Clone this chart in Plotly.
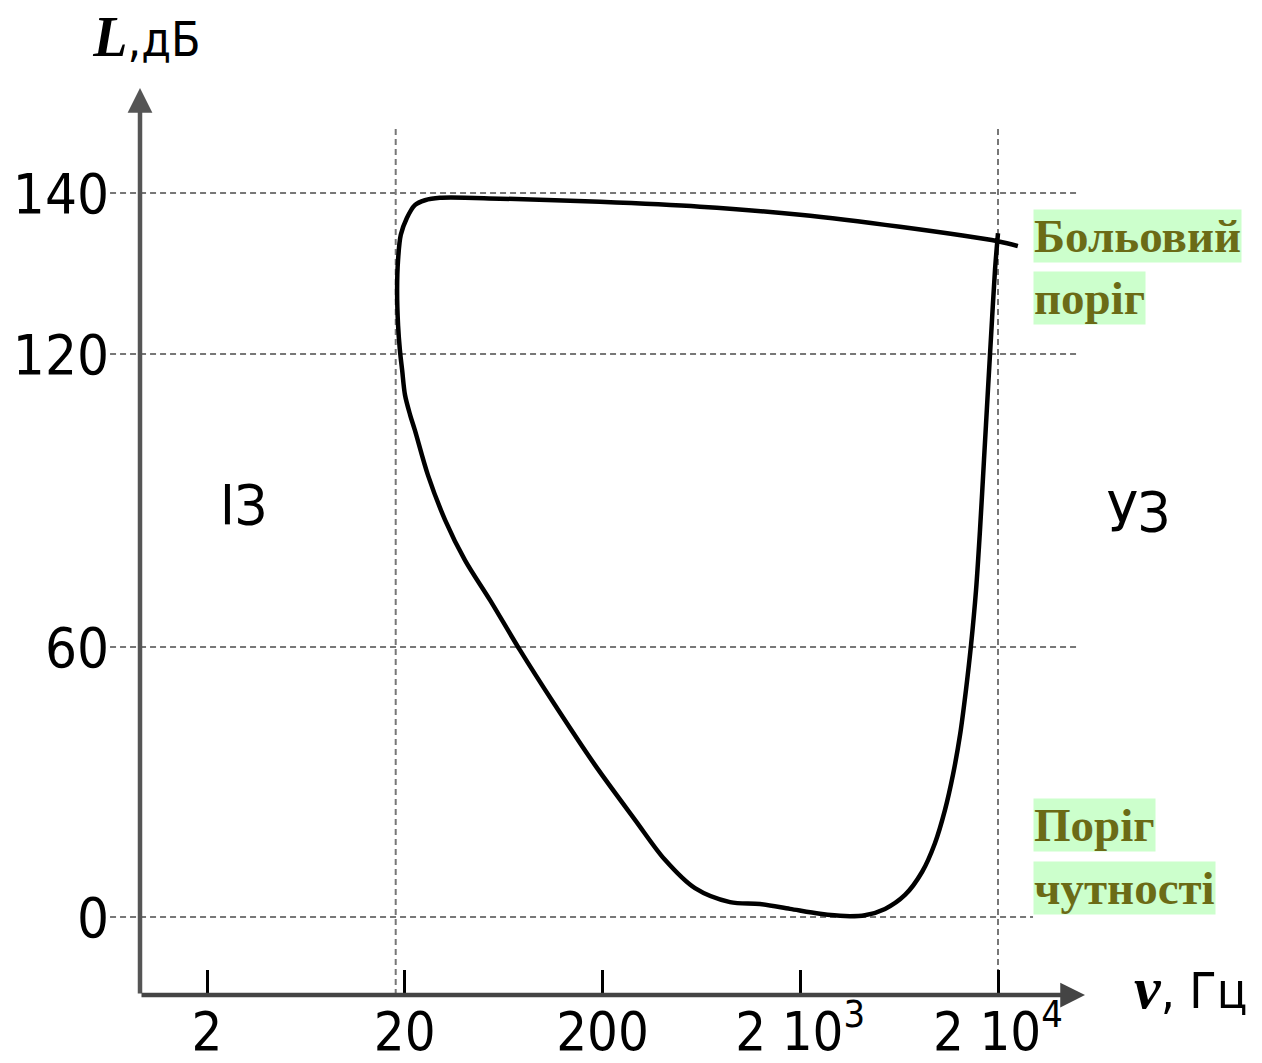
import numpy as np
import plotly.graph_objects as go

# ---------------- data ----------------
# Hearing area: pain threshold (top) + hearing threshold (closed curve)
FREQ_HZ = [25200, 20000, 6385, 1995, 622, 194, 60.6, 30.1, 25.3, 22.5, 20.5,
           19.1, 18.5, 18.3, 18.5, 18.9,
           19.4, 20.06, 21.3, 22.5, 26.2, 32.0, 40.3, 54.0, 76.5, 115, 183, 292, 414,
           587, 883, 1251, 1775, 2518, 3368, 4249, 5366, 6771, 8257, 9598,
           10790, 11840, 12850, 13770, 14610, 15490, 16220, 16990, 17790,
           18650, 19310, 20000]
LEVEL_DB = [133.4, 134.0, 135.8, 137.3, 138.3, 138.9, 139.3, 139.4, 139.1, 138.5, 136.9,
            134.8, 131.7, 128.0, 123.6, 120.5,
            116.7, 111.6, 107.5, 104.4, 95.2, 86.0, 77.8, 69.6, 59.3, 47.1, 33.8, 21.6, 12.7,
            6.4, 3.3, 2.9, 1.8, 0.7, 0.2, 0.4, 1.8, 4.9, 10.0, 16.4,
            23.8, 31.6, 40.4, 50.4, 60.4, 71.7, 84.0, 98.3, 112.6,
            124.2, 130.4, 135.0]

X_TICK_VALS = [2, 20, 200, 2000, 20000]
X_TICK_TEXT = ["2", "20", "200", "2 10<sup>3</sup>", "2 10<sup>4</sup>"]
Y_TICK_DB = [0, 60, 120, 140]
Y_TICK_TEXT = ["0", "60", "120", "140"]
V_GRID_HZ = [18, 20000]

# broken (non-uniform) level scale of the original figure
SCALE_DB = [0, 60, 120, 140]
SCALE_POS = [0, 270, 563, 724]


def to_pos(db):
    return np.interp(np.asarray(db, dtype=float), SCALE_DB, SCALE_POS)


# ---------------- figure ----------------
OFF = 8                       # page body margin of the browser
W, H = 1262 - OFF, 1063 - OFF
ML, MT = 140 - OFF, 88 - OFF
PW, PH = 945, 907
MR, MB = W - ML - PW, H - MT - PH
Y_RANGE = [-78, 829]
X_RANGE = [-0.0378, 4.741]

SANS = "DejaVu Sans Condensed, Liberation Sans, Arial, sans-serif"
SERIF = "Liberation Serif, Times New Roman, serif"

fig = go.Figure()
fig.add_trace(go.Scatter(
    x=FREQ_HZ, y=to_pos(LEVEL_DB), mode="lines",
    line=dict(color="black", width=4.5, shape="spline", smoothing=0.9),
    hoverinfo="skip", showlegend=False))

shapes = []
grid_style = dict(color="#777777", width=2, dash="6px,4px")
for db in Y_TICK_DB:
    x1 = 0.945 if db == 0 else 0.9947
    shapes.append(dict(type="line", xref="paper", yref="y", x0=-0.0317, x1=x1,
                       y0=float(to_pos(db)), y1=float(to_pos(db)),
                       line=grid_style, layer="below"))
for f in V_GRID_HZ:
    shapes.append(dict(type="line", xref="x", yref="y", x0=f, x1=f,
                       y0=Y_RANGE[0], y1=792, line=grid_style, layer="below"))


def px(x):
    return (x - OFF - ML) / PW


def py(y):
    return (MT + PH - (y - OFF)) / PH


ann = []
# axis arrows
ann.append(dict(xref="paper", yref="paper", x=0, y=1, ax=0, ay=PH, text="",
                showarrow=True, arrowhead=2, arrowsize=1.1, arrowwidth=4.5,
                arrowcolor="#555555", standoff=0, startstandoff=0))
ann.append(dict(xref="paper", yref="paper", x=1, y=0, ax=-PW, ay=0, text="",
                showarrow=True, arrowhead=2, arrowsize=1.1, arrowwidth=4.5,
                arrowcolor="#444444", standoff=0, startstandoff=0))


def label(text, x, y, size, family=SANS, **kw):
    d = dict(xref="paper", yref="paper", x=px(x), y=py(y), showarrow=False,
             xanchor="center", yanchor="middle", text=text,
             font=dict(family=family, size=size, color="black"))
    d.update(kw)
    return d


# axis titles
ann.append(label('<span style="font-family:Liberation Serif;font-size:56px">\u2009<b><i>L</i></b></span>,дБ',
                 141, 37, 48))
ann.append(label('<span style="font-family:Liberation Serif;font-size:60px"><b><i>ν</i></b></span>, Гц',
                 1190, 988, 50))
# region labels
ann.append(label("ІЗ", 243, 504, 56))
ann.append(label("УЗ", 1138, 511, 56))
# threshold labels
for txt, yc in [("Больовий", 236), ("поріг", 298), ("Поріг", 825), ("чутності", 888)]:
    ann.append(dict(xref="paper", yref="paper", x=px(1033), y=py(yc), xanchor="left",
                    yanchor="middle", showarrow=False, text="<b>" + txt + "</b>",
                    bgcolor="#ccffcc", borderpad=0,
                    font=dict(family=SERIF, size=47, color="#6b6b16")))

fig.update_layout(
    width=W, height=H,
    margin=dict(l=ML, r=MR, t=MT, b=MB, autoexpand=False),
    paper_bgcolor="white", plot_bgcolor="white",
    shapes=shapes, annotations=ann,
    xaxis=dict(type="log", range=X_RANGE, showgrid=False, zeroline=False, showline=False,
               automargin=False,
               tickmode="array", tickvals=X_TICK_VALS, ticktext=X_TICK_TEXT,
               ticks="inside", ticklen=25, tickwidth=3, tickcolor="black",
               tickfont=dict(family=SANS, size=54, color="black"), ticklabelstandoff=0),
    yaxis=dict(range=Y_RANGE, showgrid=False, zeroline=False, showline=False,
               automargin=False,
               tickmode="array", tickvals=list(to_pos(Y_TICK_DB)), ticktext=Y_TICK_TEXT,
               ticks="", tickfont=dict(family=SANS, size=56, color="black"),
               ticklabelstandoff=30),
)

fig.write_html("out.html")
